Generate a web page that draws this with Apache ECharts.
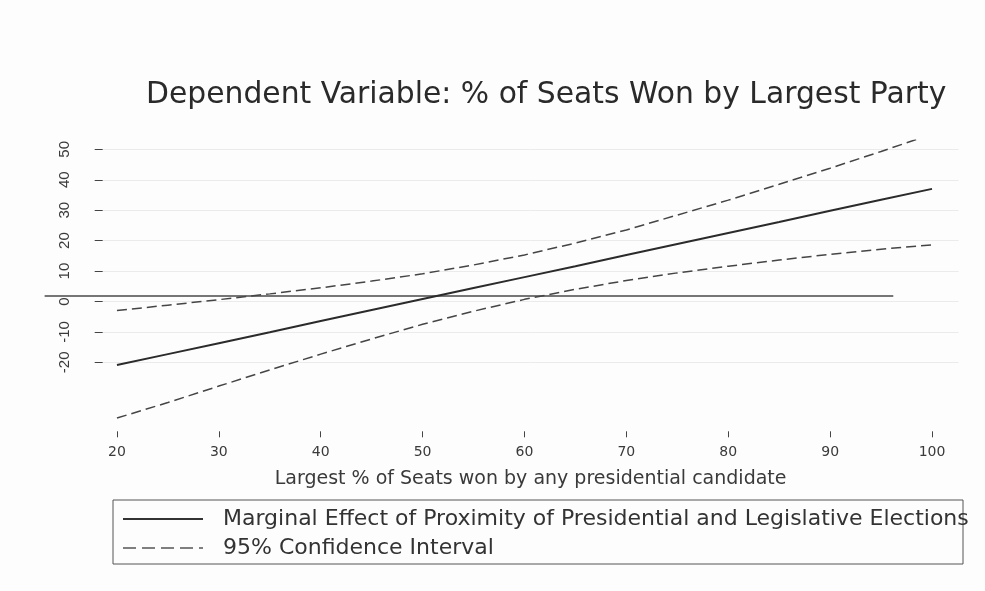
<!DOCTYPE html>
<html>
<head>
<meta charset="utf-8">
<script src="https://cdn.jsdelivr.net/npm/echarts@6/dist/echarts.min.js"></script>
<style>
  html, body { margin: 0; padding: 0; background: #fdfdfd; }
  #chart { width: 985px; height: 591px; }
</style>
</head>
<body>
<div id="chart"></div>
<script>
// Largest % of seats won by any presidential candidate (x)
const seatShare = [20, 25, 30, 35, 40, 45, 50, 55, 60, 65, 70, 75, 80, 85, 90, 95, 100];
// Marginal effect estimate
const marginalEffect = [-20.9, -17.3, -13.7, -10.1, -6.4, -2.8, 0.8, 4.4, 8.0, 11.6, 15.3, 18.9, 22.5, 26.1, 29.8, 33.4, 37.0];
// 95% confidence bounds
const ciUpper = [-3.0, -1.2, 0.6, 2.5, 4.5, 6.7, 9.1, 12.0, 15.3, 19.2, 23.5, 28.4, 33.3, 38.5, 43.8, 49.3, 55.0];
const ciLower = [-38.3, -33.2, -27.8, -22.5, -17.3, -12.3, -7.5, -3.2, 0.7, 4.0, 6.9, 9.4, 11.6, 13.6, 15.5, 17.2, 18.6];
// Horizontal reference line (runs past the left edge of the plot region)
const refLineX = [12.9, 96.2];
const refLineY = 1.8;
// Tick labels
const xTicks = [20, 30, 40, 50, 60, 70, 80, 90, 100];
const yTicks = [-20, -10, 0, 10, 20, 30, 40, 50];

const effectName = 'Marginal Effect of Proximity of Presidential and Legislative Elections';
const ciName = '95% Confidence Interval';
const font = 'DejaVu Sans';

// Shared scales: the plot grid and a full-width overlay grid with the same px-per-unit
const X_MIN = 18.6, X_MAX = 102.6, Y_MIN = -42, Y_MAX = 53;
const GRID_LEFT = 102.7, GRID_RIGHT = 26.5, GRID_TOP = 140.2, GRID_BOTTOM = 161.7;
const pxPerX = (985 - GRID_LEFT - GRID_RIGHT) / (X_MAX - X_MIN);
const overlayMin = X_MIN - GRID_LEFT / pxPerX;
const overlayMax = X_MAX + GRID_RIGHT / pxPerX;

const pairs = (xs, ys) => xs.map((x, i) => [x, ys[i]]);

const chart = echarts.init(document.getElementById('chart'), null, { renderer: 'canvas' });
chart.setOption({
  backgroundColor: '#fdfdfd',
  animation: false,
  title: {
    text: 'Dependent Variable: % of Seats Won by Largest Party',
    left: 141,
    top: 75,
    textStyle: { fontFamily: font, fontSize: 29.8, fontWeight: 'normal', color: '#2a2a2a' }
  },
  grid: [
    { left: GRID_LEFT, right: GRID_RIGHT, top: GRID_TOP, bottom: GRID_BOTTOM, containLabel: false },
    { left: 0, right: 0, top: GRID_TOP, bottom: GRID_BOTTOM, containLabel: false }
  ],
  xAxis: [
    {
      type: 'value',
      gridIndex: 0,
      min: X_MIN,
      max: X_MAX,
      offset: 2,
      axisLine: { show: false, onZero: false },
      axisTick: { show: true, length: 6, customValues: xTicks, lineStyle: { color: '#444', width: 1 } },
      axisLabel: { customValues: xTicks, margin: 14, fontFamily: font, fontSize: 14, color: '#3a3a3a' },
      splitLine: { show: false },
      name: 'Largest % of Seats won by any presidential candidate',
      nameLocation: 'middle',
      nameGap: 38,
      nameTextStyle: { fontFamily: font, fontSize: 19, color: '#3a3a3a' }
    },
    {
      type: 'value',
      gridIndex: 1,
      min: overlayMin,
      max: overlayMax,
      show: false
    }
  ],
  yAxis: [
    {
      type: 'value',
      gridIndex: 0,
      min: Y_MIN,
      max: Y_MAX,
      axisLine: { show: false, onZero: false },
      axisTick: { show: true, length: 8, customValues: yTicks, lineStyle: { color: '#444', width: 1 } },
      axisLabel: { customValues: yTicks, rotate: 90, margin: 30, fontFamily: 'Liberation Sans', fontSize: 15, color: '#3a3a3a' },
      splitLine: { show: true, lineStyle: { color: '#ebebeb', width: 1 } }
    },
    {
      type: 'value',
      gridIndex: 1,
      min: Y_MIN,
      max: Y_MAX,
      show: false
    }
  ],
  legend: {
    orient: 'vertical',
    left: 122,
    top: 508,
    padding: 0,
    itemWidth: 80,
    itemHeight: 20,
    itemGap: 7,
    selectedMode: false,
    textStyle: { fontFamily: font, fontSize: 22, color: '#333', padding: [0, 0, 0, 15] },
    data: [
      {
        name: effectName,
        itemStyle: { opacity: 0 },
        lineStyle: { color: '#333', width: 2, type: 'solid' }
      },
      {
        name: ciName,
        itemStyle: { opacity: 0 },
        lineStyle: { color: '#555', width: 1.4, type: [13, 6] }
      }
    ]
  },
  graphic: [{
    type: 'rect',
    shape: { x: 113, y: 500, width: 850, height: 64 },
    style: { fill: 'none', stroke: '#555', lineWidth: 1 },
    silent: true
  }],
  series: [
    {
      name: 'reference',
      type: 'line',
      xAxisIndex: 1,
      yAxisIndex: 1,
      data: refLineX.map(x => [x, refLineY]),
      symbol: 'none',
      lineStyle: { color: '#484848', width: 1.3 },
      z: 1
    },
    {
      name: effectName,
      type: 'line',
      data: pairs(seatShare, marginalEffect),
      symbol: 'none',
      lineStyle: { color: '#2b2b2b', width: 2 },
      z: 3
    },
    {
      name: ciName,
      type: 'line',
      data: pairs(seatShare, ciUpper),
      symbol: 'none',
      lineStyle: { color: '#454545', width: 1.5, type: [10, 5] },
      z: 2
    },
    {
      name: ciName,
      type: 'line',
      data: pairs(seatShare, ciLower),
      symbol: 'none',
      lineStyle: { color: '#454545', width: 1.5, type: [10, 5] },
      z: 2
    }
  ]
});
</script>
</body>
</html>
